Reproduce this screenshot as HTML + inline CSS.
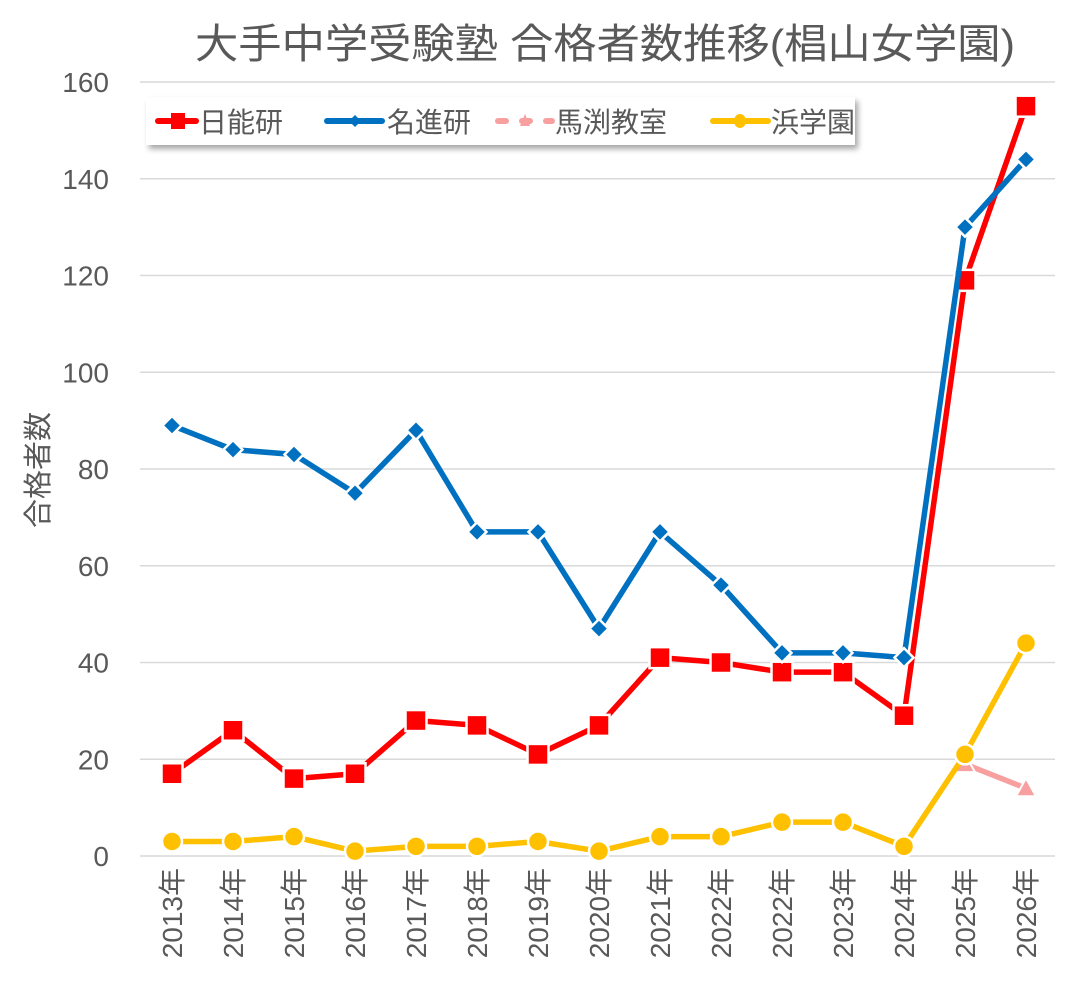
<!DOCTYPE html>
<html><head><meta charset="utf-8"><style>
body{margin:0;background:#fff;}
svg{display:block;font-family:"Liberation Sans","Noto Sans CJK JP",sans-serif;}
</style></head><body>
<svg id="s" width="1079" height="991" viewBox="0 0 1079 991" xmlns="http://www.w3.org/2000/svg">
<defs><filter id="sh" x="-5%" y="-20%" width="115%" height="160%"><feDropShadow dx="3" dy="4" stdDeviation="3" flood-color="#000" flood-opacity="0.35"/></filter></defs>
<text x="605" y="58" font-size="41" fill="#595959" text-anchor="middle" textLength="820" lengthAdjust="spacingAndGlyphs">大手中学受験塾 合格者数推移(椙山女学園)</text>
<g id="g"></g>
<text transform="translate(48,470) rotate(-90)" font-size="29" fill="#595959" text-anchor="middle">合格者数</text>
<rect x="146" y="97" width="709" height="48" fill="#fff" filter="url(#sh)"/>
<g font-size="28" fill="#595959">
<line x1="158" y1="121" x2="196" y2="121" stroke="#f00" stroke-width="6" stroke-linecap="round"/>
<rect x="171" y="113" width="14" height="16" fill="#f00"/>
<text x="199" y="132">日能研</text>
<line x1="327" y1="121" x2="382" y2="121" stroke="#0070c0" stroke-width="6" stroke-linecap="round"/>
<path d="M355 115 L361 121 L355 127 L349 121Z" fill="#0070c0"/>
<text x="387" y="132">名進研</text>
<line x1="498" y1="121" x2="552" y2="121" stroke="#f8a0a0" stroke-width="6" stroke-linecap="round" stroke-dasharray="8 16"/>
<path d="M525 114 L530 126 L520 126Z" fill="#f8a0a0"/>
<text x="555" y="132">馬渕教室</text>
<line x1="713" y1="121" x2="768" y2="121" stroke="#ffc000" stroke-width="6" stroke-linecap="round"/>
<ellipse cx="740" cy="121" rx="6" ry="7" fill="#ffc000"/>
<text x="771" y="132">浜学園</text>
</g>
</svg>
<script>
const g=document.getElementById('g');let h='';
const y0=856,py=96.75/20,x0=172,dx=61;
const Y=v=>y0-v*py,X=i=>x0+i*dx;
for(let v=0;v<=160;v+=20){h+=`<line x1="140" x2="1055" y1="${Y(v)}" y2="${Y(v)}" stroke="#d9d9d9" stroke-width="1.5"/>`;
h+=`<text x="109" y="${Y(v)+10}" font-size="28" fill="#595959" text-anchor="end">${v}</text>`;}
const yrs=['2013','2014','2015','2016','2017','2018','2019','2020','2021','2022','2022','2023','2024','2025','2026'];
yrs.forEach((t,i)=>{h+=`<text transform="translate(${X(i)+10},868) rotate(-90)" font-size="28" fill="#595959" text-anchor="end">${t}年</text>`;});
const N=[17,26,16,17,28,27,21,27,41,40,38,38,29,119,155];
const M=[89,84,83,75,88,67,67,47,67,56,42,42,41,130,144];
const H=[3,3,4,1,2,2,3,1,4,4,7,7,2,21,44];
const pl=(d,c,st)=>{let p=[];d.forEach((v,i)=>{if(v!=null)p.push(X(i)+','+Y(v))});return `<polyline points="${p.join(' ')}" fill="none" stroke="${c}" stroke-width="5.5" stroke-linejoin="round" ${st||''}/>`;};
h+=pl([null,null,null,null,null,null,null,null,null,null,null,null,null,19,14],'#f8a0a0');
[[13,19],[14,14]].forEach(([i,v])=>{h+=`<path d="M${X(i)} ${Y(v)-10} L${X(i)+10} ${Y(v)+8} L${X(i)-10} ${Y(v)+8}Z" fill="#f8a0a0" stroke="#fff" stroke-width="2"/>`;});
h+=pl(H,'#ffc000');
H.forEach((v,i)=>{h+=`<circle cx="${X(i)}" cy="${Y(v)}" r="10" fill="#ffc000" stroke="#fff" stroke-width="2.5"/>`;});
h+=pl(N,'#f00');
N.forEach((v,i)=>{h+=`<rect x="${X(i)-10.5}" y="${Y(v)-10.5}" width="21" height="21" fill="#f00" stroke="#fff" stroke-width="2.5"/>`;});
h+=pl(M,'#0070c0');
M.forEach((v,i)=>{const x=X(i),y=Y(v);h+=`<path d="M${x} ${y-9.5} L${x+9.5} ${y} L${x} ${y+9.5} L${x-9.5} ${y}Z" fill="#0070c0" stroke="#fff" stroke-width="2.5"/>`;});
g.innerHTML=h;
</script>
</body></html>
